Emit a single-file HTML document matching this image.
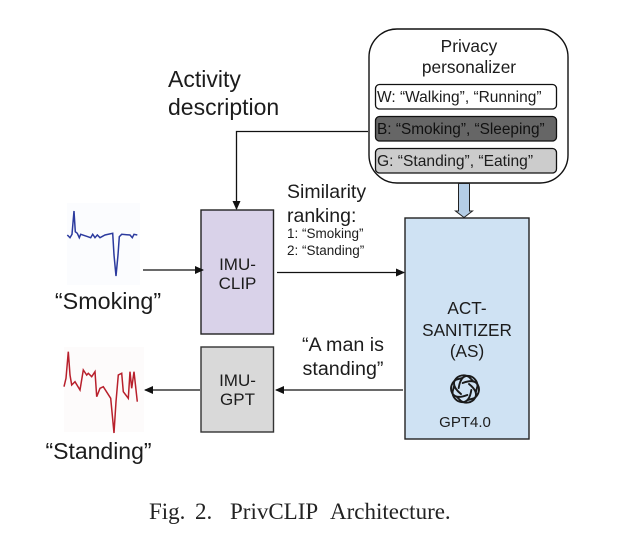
<!DOCTYPE html>
<html>
<head>
<meta charset="utf-8">
<style>
html,body{margin:0;padding:0;background:#fff;}
svg{display:block;}
text{font-family:"Liberation Sans",sans-serif;fill:#1c1c1c;}
</style>
</head>
<body>
<svg width="625" height="556" viewBox="0 0 625 556" xmlns="http://www.w3.org/2000/svg">
<defs>
<marker id="a" markerWidth="10" markerHeight="8" refX="8" refY="4" orient="auto" markerUnits="userSpaceOnUse"><path d="M0 0L9 4L0 8Z" fill="#111"/></marker>
</defs>

<!-- Privacy personalizer -->
<rect x="369" y="29" width="199" height="154" rx="28" fill="#fff" stroke="#111" stroke-width="1.4"/>
<text x="469" y="52" font-size="17.300" text-anchor="middle">Privacy</text>
<text x="469" y="73" font-size="17.300" text-anchor="middle">personalizer</text>
<rect x="375.500" y="84.500" width="181" height="24.500" rx="4" fill="#fff" stroke="#111" stroke-width="1.300"/>
<text x="377" y="102" font-size="15.500">W: “Walking”, “Running”</text>
<rect x="375.500" y="116.500" width="181" height="24.500" rx="4" fill="#666" stroke="#111" stroke-width="1.300"/>
<text x="377" y="134" font-size="15.400" style="fill:#111">B: “Smoking”, “Sleeping”</text>
<rect x="375.500" y="148.500" width="181" height="24.500" rx="4" fill="#ccc" stroke="#111" stroke-width="1.300"/>
<text x="377" y="166" font-size="15.600">G: “Standing”, “Eating”</text>

<!-- Block arrow -->
<path d="M458.500 183.500H469.500V211H472.500L464 217.500L455.500 211H458.500Z" fill="#b4cde6" stroke="#222" stroke-width="1"/>

<!-- Activity description -->
<text x="168" y="87" font-size="23">Activity</text>
<text x="168" y="115" font-size="23">description</text>
<path d="M368 131.500H236.500V209" fill="none" stroke="#111" stroke-width="1.300" marker-end="url(#a)"/>

<!-- IMU-CLIP -->
<rect x="201" y="210" width="72.500" height="124" fill="#d9d2e9" stroke="#222" stroke-width="1.400"/>
<text x="237.500" y="270" font-size="17" text-anchor="middle">IMU-</text>
<text x="237.500" y="289" font-size="17" text-anchor="middle">CLIP</text>

<!-- IMU-GPT -->
<rect x="201" y="347" width="72.500" height="85" fill="#d9d9d9" stroke="#333" stroke-width="1.400"/>
<text x="237.500" y="386" font-size="17" text-anchor="middle">IMU-</text>
<text x="237.500" y="405" font-size="17" text-anchor="middle">GPT</text>

<!-- ACT-SANITIZER -->
<rect x="405" y="218" width="124" height="221" fill="#cfe2f3" stroke="#222" stroke-width="1.400"/>
<text x="467" y="314" font-size="17.200" text-anchor="middle">ACT-</text>
<text x="467" y="336" font-size="17.200" text-anchor="middle">SANITIZER</text>
<text x="467" y="357" font-size="17.200" text-anchor="middle">(AS)</text>
<g fill="none" stroke="#1a1a1a" stroke-width="1.900" stroke-linecap="round">
<path d="M461 394C456 390 452 385 455 380C458 375 465 374 469 377L473 381"/>
<path d="M461 394C456 390 452 385 455 380C458 375 465 374 469 377L473 381" transform="rotate(60 465 389)"/>
<path d="M461 394C456 390 452 385 455 380C458 375 465 374 469 377L473 381" transform="rotate(120 465 389)"/>
<path d="M461 394C456 390 452 385 455 380C458 375 465 374 469 377L473 381" transform="rotate(180 465 389)"/>
<path d="M461 394C456 390 452 385 455 380C458 375 465 374 469 377L473 381" transform="rotate(240 465 389)"/>
<path d="M461 394C456 390 452 385 455 380C458 375 465 374 469 377L473 381" transform="rotate(300 465 389)"/>
</g>
<text x="465" y="427" font-size="15" text-anchor="middle">GPT4.0</text>

<!-- Similarity -->
<text x="287" y="198" font-size="19.500">Similarity</text>
<text x="287" y="222" font-size="19.500">ranking:</text>
<text x="287" y="238" font-size="13.500">1: “Smoking”</text>
<text x="287" y="255" font-size="13.500">2: “Standing”</text>
<path d="M277 272.500H404" fill="none" stroke="#111" stroke-width="1.300" marker-end="url(#a)"/>

<!-- A man is standing -->
<text x="343" y="351" font-size="19.700" text-anchor="middle">“A man is</text>
<text x="343" y="375" font-size="19.700" text-anchor="middle">standing”</text>
<path d="M403 390H276" fill="none" stroke="#111" stroke-width="1.300" marker-end="url(#a)"/>
<path d="M200 390H145" fill="none" stroke="#111" stroke-width="1.300" marker-end="url(#a)"/>
<path d="M143 270H203" fill="none" stroke="#111" stroke-width="1.300" marker-end="url(#a)"/>

<!-- Smoking chart -->
<rect x="67" y="203" width="73" height="82" fill="#fbfcfe"/>
<polyline fill="none" stroke="#2b3a9e" stroke-width="1.500" points="67.300,235 70,237.700 72,234.300 74,211 75.300,231.700 77.300,233.300 79.300,237.700 80.700,234.300 86.700,236.300 90.700,237.700 92.700,234.300 95,237.700 97.300,235 100,237.700 105,235 112.700,233.300 114,255 116,276 118,255 119.300,236.700 121.700,234.300 130,235 132.300,237.700 134,234.300 137.300,235"/>
<text x="108" y="309" font-size="23.300" text-anchor="middle">“Smoking”</text>

<!-- Standing chart -->
<rect x="64" y="347" width="80" height="85" fill="#fdfbfb"/>
<polyline fill="none" stroke="#b8202c" stroke-width="1.500" points="64,386.700 66,378.300 68.300,351.700 70,375 71.700,385 75,381.700 80,390 83.300,370 86.700,375 88.300,373.300 91.700,376.700 95,371.700 96.700,396.700 100,388.300 103.300,386.700 110.700,398.300 114,433 116,401.700 118.300,375 121.700,373.300 123.300,391.700 128.300,398.300 130,371.700 131.700,388.300 134,371.700 137.300,401.700"/>
<text x="98.500" y="459" font-size="23" text-anchor="middle">“Standing”</text>

<!-- Caption -->
<g style="font-size:23px">
<text x="149" y="519" style="font-family:'Liberation Serif',serif;fill:#222">Fig.</text>
<text x="195" y="519" style="font-family:'Liberation Serif',serif;fill:#222">2.</text>
<text x="230" y="519" style="font-family:'Liberation Serif',serif;fill:#222">PrivCLIP</text>
<text x="330" y="519" style="font-family:'Liberation Serif',serif;fill:#222">Architecture.</text>
</g>
</svg>
</body>
</html>
